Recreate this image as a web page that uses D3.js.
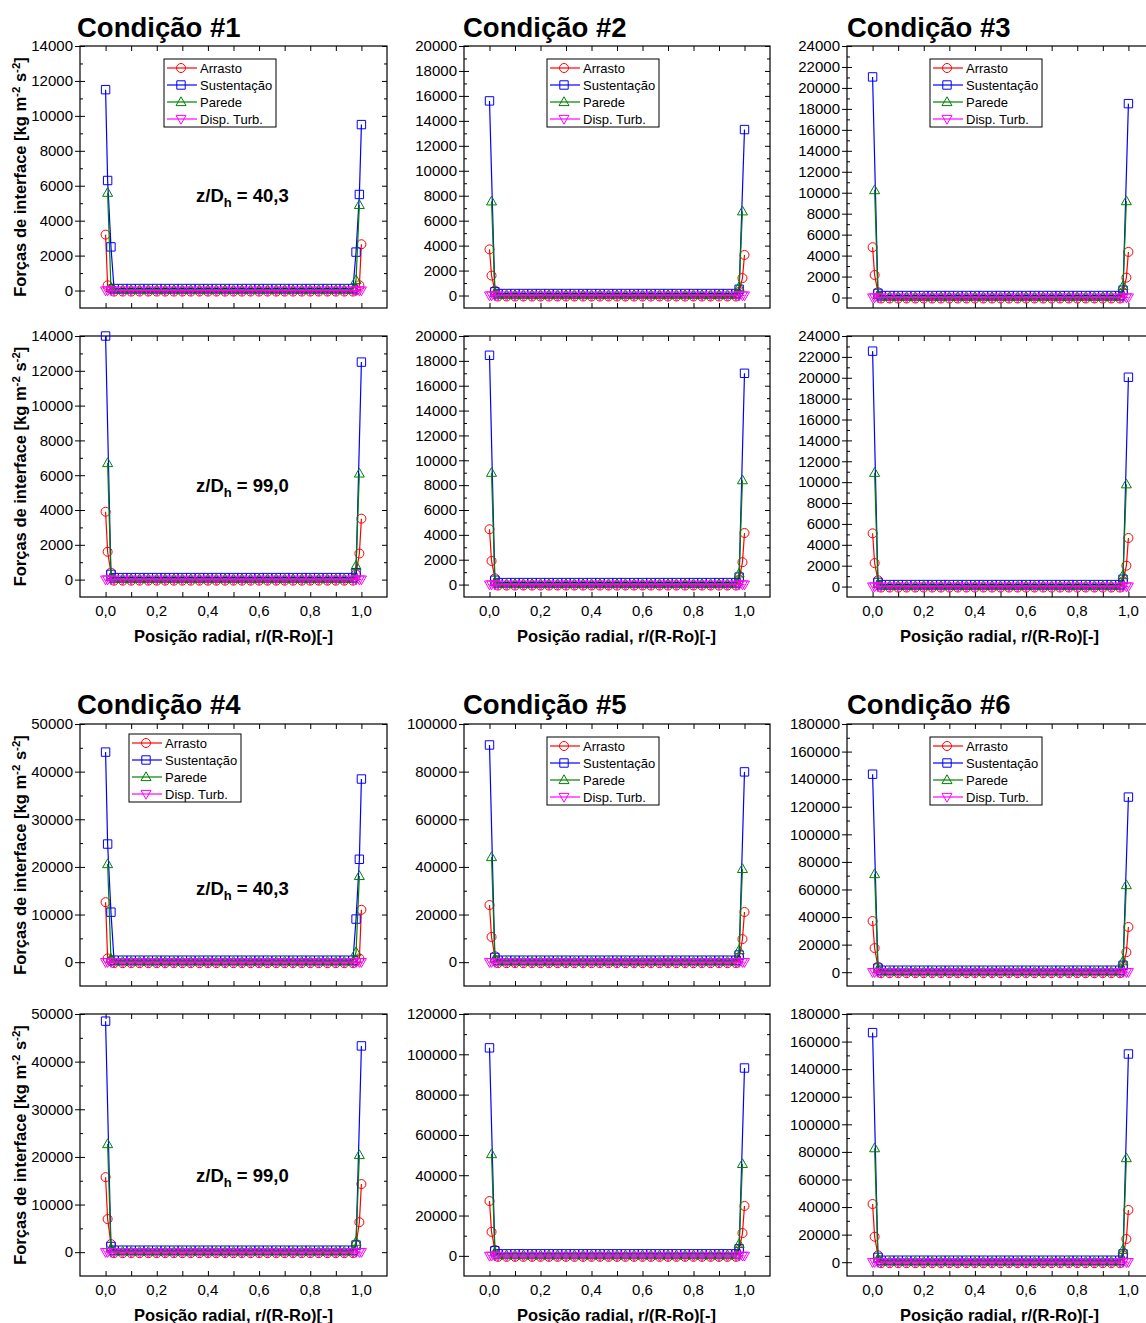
<!DOCTYPE html>
<html>
<head>
<meta charset="utf-8">
<script src="https://cdn.jsdelivr.net/npm/d3@7"></script>
<style>
  body { margin: 0; background: #fff; }
  svg { display: block; }
  text { font-family: Arial, "Liberation Sans", sans-serif; fill: #000; }
</style>
</head>
<body>
<svg id="chart" width="1146" height="1323"></svg>
<script>
// Radial positions r/(R-Ro) of the profile points (refined near both walls)
const rPos = [0, 0.008, 0.021,
  0.033, 0.067, 0.1, 0.133, 0.167, 0.2, 0.233, 0.267, 0.3, 0.333,
  0.367, 0.4, 0.433, 0.467, 0.5, 0.533, 0.567, 0.6, 0.633, 0.667,
  0.7, 0.733, 0.767, 0.8, 0.833, 0.867, 0.9, 0.933, 0.967,
  0.979, 0.992, 1.0];

const seriesNames = ["Arrasto", "Sustentação", "Parede", "Disp. Turb."];
const conditionTitles = ["Condição #1", "Condição #2", "Condição #3", "Condição #4", "Condição #5", "Condição #6"];
const stations = ["40,3", "99,0"];
const xTicks = [0, 0.1, 0.2, 0.3, 0.4, 0.5, 0.6, 0.7, 0.8, 0.9, 1.0];
const xTickLabels = ["0,0", "", "0,2", "", "0,4", "", "0,6", "", "0,8", "", "1,0"];

const yTicks14k = [0, 2000, 4000, 6000, 8000, 10000, 12000, 14000];
const yTicks20k = [0, 2000, 4000, 6000, 8000, 10000, 12000, 14000, 16000, 18000, 20000];
const yTicks24k = [0, 2000, 4000, 6000, 8000, 10000, 12000, 14000, 16000, 18000, 20000, 22000, 24000];
const yTicks50k = [0, 10000, 20000, 30000, 40000, 50000];
const yTicks100k = [0, 20000, 40000, 60000, 80000, 100000];
const yTicks120k = [0, 20000, 40000, 60000, 80000, 100000, 120000];
const yTicks180k = [0, 20000, 40000, 60000, 80000, 100000, 120000, 140000, 160000, 180000];

// Turbulent dispersion force: ~0 across the whole gap in every case
const dispTurb = [0, 0, 0,
  0, 0, 0, 0, 0, 0, 0, 0, 0, 0,
  0, 0, 0, 0, 0, 0, 0, 0, 0, 0,
  0, 0, 0, 0, 0, 0, 0, 0, 0,
  0, 0, 0];

// null = no value stored at that radial position for the series

// ---- Condição #1 ----
const c1z40Arrasto = [3200, 300, 100,
  -60, -60, -60, -60, -60, -60, -60, -60, -60, -60,
  -60, -60, -60, -60, -60, -60, -60, -60, -60, -60,
  -60, -60, -60, -60, -60, -60, -60, -60, -60,
  20, 300, 2650];
const c1z40Sust = [11500, 6300, 2500,
  115, 115, 115, 115, 115, 115, 115, 115, 115, 115,
  115, 115, 115, 115, 115, 115, 115, 115, 115, 115,
  115, 115, 115, 115, 115, 115, 115, 115, 115,
  2200, 5500, 9500];
const c1z40Parede = [null, 5600, 150,
  40, 40, 40, 40, 40, 40, 40, 40, 40, 40,
  40, 40, 40, 40, 40, 40, 40, 40, 40, 40,
  40, 40, 40, 40, 40, 40, 40, 40, 40,
  600, 4900, null];
const c1z99Arrasto = [3900, 1600, 400,
  -60, -60, -60, -60, -60, -60, -60, -60, -60, -60,
  -60, -60, -60, -60, -60, -60, -60, -60, -60, -60,
  -60, -60, -60, -60, -60, -60, -60, -60, -60,
  300, 1500, 3500];
const c1z99Sust = [14000, null, 300,
  115, 115, 115, 115, 115, 115, 115, 115, 115, 115,
  115, 115, 115, 115, 115, 115, 115, 115, 115, 115,
  115, 115, 115, 115, 115, 115, 115, 115, 115,
  400, null, 12500];
const c1z99Parede = [null, 6700, 150,
  40, 40, 40, 40, 40, 40, 40, 40, 40, 40,
  40, 40, 40, 40, 40, 40, 40, 40, 40, 40,
  40, 40, 40, 40, 40, 40, 40, 40, 40,
  800, 6100, null];

// ---- Condição #2 ----
const c2z40Arrasto = [3700, 1600, 400,
  -80, -80, -80, -80, -80, -80, -80, -80, -80, -80,
  -80, -80, -80, -80, -80, -80, -80, -80, -80, -80,
  -80, -80, -80, -80, -80, -80, -80, -80, -80,
  300, 1400, 3250];
const c2z40Sust = [15600, null, 300,
  160, 160, 160, 160, 160, 160, 160, 160, 160, 160,
  160, 160, 160, 160, 160, 160, 160, 160, 160, 160,
  160, 160, 160, 160, 160, 160, 160, 160, 160,
  500, null, 13300];
const c2z40Parede = [null, 7550, 200,
  55, 55, 55, 55, 55, 55, 55, 55, 55, 55,
  55, 55, 55, 55, 55, 55, 55, 55, 55, 55,
  55, 55, 55, 55, 55, 55, 55, 55, 55,
  700, 6750, null];
const c2z99Arrasto = [4450, 1900, 500,
  -80, -80, -80, -80, -80, -80, -80, -80, -80, -80,
  -80, -80, -80, -80, -80, -80, -80, -80, -80, -80,
  -80, -80, -80, -80, -80, -80, -80, -80, -80,
  400, 1800, 4150];
const c2z99Sust = [18450, null, 350,
  160, 160, 160, 160, 160, 160, 160, 160, 160, 160,
  160, 160, 160, 160, 160, 160, 160, 160, 160, 160,
  160, 160, 160, 160, 160, 160, 160, 160, 160,
  600, null, 17000];
const c2z99Parede = [null, 9000, 200,
  55, 55, 55, 55, 55, 55, 55, 55, 55, 55,
  55, 55, 55, 55, 55, 55, 55, 55, 55, 55,
  55, 55, 55, 55, 55, 55, 55, 55, 55,
  900, 8400, null];

// ---- Condição #3 ----
const c3z40Arrasto = [4800, 2150, 500,
  -95, -95, -95, -95, -95, -95, -95, -95, -95, -95,
  -95, -95, -95, -95, -95, -95, -95, -95, -95, -95,
  -95, -95, -95, -95, -95, -95, -95, -95, -95,
  500, 1900, 4350];
const c3z40Sust = [21050, null, 400,
  190, 190, 190, 190, 190, 190, 190, 190, 190, 190,
  190, 190, 190, 190, 190, 190, 190, 190, 190, 190,
  190, 190, 190, 190, 190, 190, 190, 190, 190,
  700, null, 18500];
const c3z40Parede = [null, 10250, 250,
  65, 65, 65, 65, 65, 65, 65, 65, 65, 65,
  65, 65, 65, 65, 65, 65, 65, 65, 65, 65,
  65, 65, 65, 65, 65, 65, 65, 65, 65,
  1100, 9200, null];
const c3z99Arrasto = [5100, 2250, 600,
  -95, -95, -95, -95, -95, -95, -95, -95, -95, -95,
  -95, -95, -95, -95, -95, -95, -95, -95, -95, -95,
  -95, -95, -95, -95, -95, -95, -95, -95, -95,
  500, 2000, 4650];
const c3z99Sust = [22550, null, 400,
  190, 190, 190, 190, 190, 190, 190, 190, 190, 190,
  190, 190, 190, 190, 190, 190, 190, 190, 190, 190,
  190, 190, 190, 190, 190, 190, 190, 190, 190,
  700, null, 20050];
const c3z99Parede = [null, 10900, 250,
  65, 65, 65, 65, 65, 65, 65, 65, 65, 65,
  65, 65, 65, 65, 65, 65, 65, 65, 65, 65,
  65, 65, 65, 65, 65, 65, 65, 65, 65,
  1100, 9800, null];

// ---- Condição #4 ----
const c4z40Arrasto = [12600, 800, 300,
  -210, -210, -210, -210, -210, -210, -210, -210, -210, -210,
  -210, -210, -210, -210, -210, -210, -210, -210, -210, -210,
  -210, -210, -210, -210, -210, -210, -210, -210, -210,
  300, 800, 11000];
const c4z40Sust = [44100, 24800, 10500,
  420, 420, 420, 420, 420, 420, 420, 420, 420, 420,
  420, 420, 420, 420, 420, 420, 420, 420, 420, 420,
  420, 420, 420, 420, 420, 420, 420, 420, 420,
  9050, 21600, 38450];
const c4z40Parede = [null, 20600, 700,
  150, 150, 150, 150, 150, 150, 150, 150, 150, 150,
  150, 150, 150, 150, 150, 150, 150, 150, 150, 150,
  150, 150, 150, 150, 150, 150, 150, 150, 150,
  2100, 18100, null];
const c4z99Arrasto = [15750, 6950, 1700,
  -210, -210, -210, -210, -210, -210, -210, -210, -210, -210,
  -210, -210, -210, -210, -210, -210, -210, -210, -210, -210,
  -210, -210, -210, -210, -210, -210, -210, -210, -210,
  1500, 6300, 14300];
const c4z99Sust = [48500, null, 1200,
  420, 420, 420, 420, 420, 420, 420, 420, 420, 420,
  420, 420, 420, 420, 420, 420, 420, 420, 420, 420,
  420, 420, 420, 420, 420, 420, 420, 420, 420,
  1500, null, 43300];
const c4z99Parede = [null, 22700, 800,
  150, 150, 150, 150, 150, 150, 150, 150, 150, 150,
  150, 150, 150, 150, 150, 150, 150, 150, 150, 150,
  150, 150, 150, 150, 150, 150, 150, 150, 150,
  2200, 20400, null];

// ---- Condição #5 ----
const c5z40Arrasto = [24000, 10600, 2500,
  -420, -420, -420, -420, -420, -420, -420, -420, -420, -420,
  -420, -420, -420, -420, -420, -420, -420, -420, -420, -420,
  -420, -420, -420, -420, -420, -420, -420, -420, -420,
  2000, 9700, 21050];
const c5z40Sust = [91200, null, 2000,
  840, 840, 840, 840, 840, 840, 840, 840, 840, 840,
  840, 840, 840, 840, 840, 840, 840, 840, 840, 840,
  840, 840, 840, 840, 840, 840, 840, 840, 840,
  3000, null, 79900];
const c5z40Parede = [null, 44150, 1500,
  300, 300, 300, 300, 300, 300, 300, 300, 300, 300,
  300, 300, 300, 300, 300, 300, 300, 300, 300, 300,
  300, 300, 300, 300, 300, 300, 300, 300, 300,
  5100, 39150, null];
const c5z99Arrasto = [27200, 11900, 3000,
  -500, -500, -500, -500, -500, -500, -500, -500, -500, -500,
  -500, -500, -500, -500, -500, -500, -500, -500, -500, -500,
  -500, -500, -500, -500, -500, -500, -500, -500, -500,
  3000, 11300, 24750];
const c5z99Sust = [103200, null, 2500,
  1000, 1000, 1000, 1000, 1000, 1000, 1000, 1000, 1000, 1000,
  1000, 1000, 1000, 1000, 1000, 1000, 1000, 1000, 1000, 1000,
  1000, 1000, 1000, 1000, 1000, 1000, 1000, 1000, 1000,
  3500, null, 93200];
const c5z99Parede = [null, 50500, 1800,
  350, 350, 350, 350, 350, 350, 350, 350, 350, 350,
  350, 350, 350, 350, 350, 350, 350, 350, 350, 350,
  350, 350, 350, 350, 350, 350, 350, 350, 350,
  5900, 45600, null];

// ---- Condição #6 ----
const c6z40Arrasto = [37100, 17500, 4000,
  -720, -720, -720, -720, -720, -720, -720, -720, -720, -720,
  -720, -720, -720, -720, -720, -720, -720, -720, -720, -720,
  -720, -720, -720, -720, -720, -720, -720, -720, -720,
  4000, 14500, 32800];
const c6z40Sust = [143600, null, 3000,
  1450, 1450, 1450, 1450, 1450, 1450, 1450, 1450, 1450, 1450,
  1450, 1450, 1450, 1450, 1450, 1450, 1450, 1450, 1450, 1450,
  1450, 1450, 1450, 1450, 1450, 1450, 1450, 1450, 1450,
  5000, null, 127000];
const c6z40Parede = [null, 71200, 2200,
  500, 500, 500, 500, 500, 500, 500, 500, 500, 500,
  500, 500, 500, 500, 500, 500, 500, 500, 500, 500,
  500, 500, 500, 500, 500, 500, 500, 500, 500,
  8000, 63200, null];
const c6z99Arrasto = [42200, 18500, 5000,
  -720, -720, -720, -720, -720, -720, -720, -720, -720, -720,
  -720, -720, -720, -720, -720, -720, -720, -720, -720, -720,
  -720, -720, -720, -720, -720, -720, -720, -720, -720,
  5000, 16800, 37900];
const c6z99Sust = [166500, null, 3500,
  1450, 1450, 1450, 1450, 1450, 1450, 1450, 1450, 1450, 1450,
  1450, 1450, 1450, 1450, 1450, 1450, 1450, 1450, 1450, 1450,
  1450, 1450, 1450, 1450, 1450, 1450, 1450, 1450, 1450,
  6000, null, 151000];
const c6z99Parede = [null, 82700, 2500,
  500, 500, 500, 500, 500, 500, 500, 500, 500, 500,
  500, 500, 500, 500, 500, 500, 500, 500, 500, 500,
  500, 500, 500, 500, 500, 500, 500, 500, 500,
  9000, 75500, null];

// Panel table: condition index, axial station index, series, y axis range and ticks
const panels = [
  { cond: 0, st: 0, series: [c1z40Arrasto, c1z40Sust, c1z40Parede, dispTurb], yDomain: [-1000, 14000], yTicks: yTicks14k },
  { cond: 0, st: 1, series: [c1z99Arrasto, c1z99Sust, c1z99Parede, dispTurb], yDomain: [-1000, 14000], yTicks: yTicks14k },
  { cond: 1, st: 0, series: [c2z40Arrasto, c2z40Sust, c2z40Parede, dispTurb], yDomain: [-1000, 20000], yTicks: yTicks20k },
  { cond: 1, st: 1, series: [c2z99Arrasto, c2z99Sust, c2z99Parede, dispTurb], yDomain: [-1000, 20000], yTicks: yTicks20k },
  { cond: 2, st: 0, series: [c3z40Arrasto, c3z40Sust, c3z40Parede, dispTurb], yDomain: [-1000, 24000], yTicks: yTicks24k },
  { cond: 2, st: 1, series: [c3z99Arrasto, c3z99Sust, c3z99Parede, dispTurb], yDomain: [-1000, 24000], yTicks: yTicks24k },
  { cond: 3, st: 0, series: [c4z40Arrasto, c4z40Sust, c4z40Parede, dispTurb], yDomain: [-5000, 50000], yTicks: yTicks50k },
  { cond: 3, st: 1, series: [c4z99Arrasto, c4z99Sust, c4z99Parede, dispTurb], yDomain: [-5000, 50000], yTicks: yTicks50k },
  { cond: 4, st: 0, series: [c5z40Arrasto, c5z40Sust, c5z40Parede, dispTurb], yDomain: [-10000, 100000], yTicks: yTicks100k },
  { cond: 4, st: 1, series: [c5z99Arrasto, c5z99Sust, c5z99Parede, dispTurb], yDomain: [-10000, 120000], yTicks: yTicks120k },
  { cond: 5, st: 0, series: [c6z40Arrasto, c6z40Sust, c6z40Parede, dispTurb], yDomain: [-10000, 180000], yTicks: yTicks180k },
  { cond: 5, st: 1, series: [c6z99Arrasto, c6z99Sust, c6z99Parede, dispTurb], yDomain: [-10000, 180000], yTicks: yTicks180k }
];

panels.forEach(p => p.series.forEach((s, i) => {
  if (s.length !== rPos.length) throw new Error("length mismatch: cond " + p.cond + " st " + p.st + " series " + i + " (" + s.length + ")");
}));

// ---------- layout ----------
const colX = [[80, 387], [464, 770], [847, 1154]];
const rowY = [[46, 308], [336, 597], [724, 986], [1014, 1276]];
const titleX = [77, 463, 847];
const titleBaseline = [37, 714];
const xTitleCenter = [233.5, 616.5, 999.5];
const legendPos = [[164, 59], [547, 59], [930, 59], [129, 734], [547, 737], [930, 737]];
const annotBaseline = [202, 492, 895, 1182];
const colors = ["#ff0000", "#0000ff", "#008000", "#ff00ff"];
const markerPaths = [
  "M4.5,0A4.5,4.5 0 1,1 -4.5,0A4.5,4.5 0 1,1 4.5,0Z",
  "M-4.2,-4.2H4.2V4.2H-4.2Z",
  "M0,-5.2L5,3.6H-5Z",
  "M0,5.2L5,-3.6H-5Z"
];

const svg = d3.select("#chart");
const fmtY = d3.format("d");

panels.forEach(p => {
  const col = p.cond % 3;
  const group = Math.floor(p.cond / 3);
  const row = group * 2 + p.st;
  const [x0, x1] = colX[col];
  const [y0, y1] = rowY[row];
  const x = d3.scaleLinear().domain([-0.1, 1.1]).range([x0, x1]);
  const y = d3.scaleLinear().domain(p.yDomain).range([y1, y0]);
  const g = svg.append("g");

  const minor = [];
  for (let i = 0; i < p.yTicks.length - 1; i++) minor.push((p.yTicks[i] + p.yTicks[i + 1]) / 2);

  const clean = sel => { sel.select(".domain").remove(); sel.selectAll("line").attr("stroke", "#000").attr("stroke-width", 1); };

  // left axis: labelled majors (outward) + inward majors + inward minors
  g.append("g").attr("transform", `translate(${x0},0)`)
    .call(d3.axisLeft(y).tickValues(p.yTicks).tickSize(5).tickPadding(2).tickFormat(fmtY))
    .call(clean)
    .call(s => s.selectAll("text").attr("font-size", 15).attr("font-family", "Arial, 'Liberation Sans', sans-serif").attr("fill", "#000"));
  g.append("g").attr("transform", `translate(${x0},0)`)
    .call(d3.axisLeft(y).tickValues(p.yTicks).tickSize(-5).tickFormat("")).call(clean);
  g.append("g").attr("transform", `translate(${x0},0)`)
    .call(d3.axisLeft(y).tickValues(minor).tickSize(-3).tickFormat("")).call(clean);
  // right axis: inward ticks
  g.append("g").attr("transform", `translate(${x1},0)`)
    .call(d3.axisRight(y).tickValues(p.yTicks).tickSize(-5).tickFormat("")).call(clean);
  g.append("g").attr("transform", `translate(${x1},0)`)
    .call(d3.axisRight(y).tickValues(minor).tickSize(-3).tickFormat("")).call(clean);
  // bottom axis: inward ticks, labels on the lower panel of each group
  g.append("g").attr("transform", `translate(0,${y1})`)
    .call(d3.axisBottom(x).tickValues(xTicks).tickSize(-5).tickFormat(""))
    .call(clean);
  if (p.st === 1) {
    g.append("g").selectAll("text").data(xTicks).join("text")
      .attr("x", d => x(d)).attr("y", y1 + 19)
      .attr("text-anchor", "middle").attr("font-size", 15)
      .text((d, i) => xTickLabels[i]);
    g.append("text")
      .attr("x", xTitleCenter[col]).attr("y", y1 + 45)
      .attr("text-anchor", "middle").attr("font-size", 16.5).attr("font-weight", "bold")
      .text("Posição radial, r/(R-Ro)[-]");
  }
  // top axis: inward ticks
  g.append("g").attr("transform", `translate(0,${y0})`)
    .call(d3.axisTop(x).tickValues(xTicks).tickSize(-5).tickFormat(""))
    .call(clean);

  // frame
  g.append("rect").attr("x", x0).attr("y", y0).attr("width", x1 - x0).attr("height", y1 - y0)
    .attr("fill", "none").attr("stroke", "#000").attr("stroke-width", 1.2);

  // series: line then markers, in legend order; missing values are skipped
  p.series.forEach((vals, k) => {
    const pts = rPos.map((r, i) => [r, vals[i]]).filter(d => d[1] != null);
    const line = d3.line().x(d => x(d[0])).y(d => y(d[1]));
    g.append("path").attr("d", line(pts)).attr("fill", "none")
      .attr("stroke", colors[k]).attr("stroke-width", 1.2).attr("stroke-linejoin", "round");
    g.append("g").selectAll("path").data(pts).join("path")
      .attr("d", markerPaths[k])
      .attr("transform", d => `translate(${x(d[0])},${y(d[1])})`)
      .attr("fill", "none").attr("stroke", colors[k]).attr("stroke-width", 1);
  });

  // legend in the upper panel of each group
  if (p.st === 0) {
    const [lx, ly] = legendPos[p.cond];
    const lg = g.append("g").attr("transform", `translate(${lx},${ly})`);
    lg.append("rect").attr("width", 112).attr("height", 68).attr("fill", "#fff").attr("stroke", "#000").attr("stroke-width", 1);
    seriesNames.forEach((name, k) => {
      const cy = 9 + k * 17;
      lg.append("line").attr("x1", 3).attr("x2", 33).attr("y1", cy).attr("y2", cy)
        .attr("stroke", colors[k]).attr("stroke-width", 1.2);
      lg.append("path").attr("d", markerPaths[k]).attr("transform", `translate(17,${cy})`)
        .attr("fill", "none").attr("stroke", colors[k]).attr("stroke-width", 1);
      lg.append("text").attr("x", 36).attr("y", cy + 4.5).attr("font-size", 13).text(name);
    });
  }

  // axial station annotation and y title on the first column
  if (col === 0) {
    const t = g.append("text").attr("x", 196).attr("y", annotBaseline[row])
      .attr("font-size", 18.5).attr("font-weight", "bold");
    t.append("tspan").text("z/D");
    t.append("tspan").attr("font-size", 13).attr("dy", 5).text("h");
    t.append("tspan").attr("dy", -5).text(" = " + stations[p.st]);

    const cy = (y0 + y1) / 2;
    const yt = g.append("text").attr("transform", `translate(26,${cy}) rotate(-90)`)
      .attr("text-anchor", "middle").attr("font-size", 16.5).attr("font-weight", "bold");
    yt.append("tspan").text("Forças de interface [kg m");
    yt.append("tspan").attr("font-size", 11.5).attr("dy", -6).text("-2");
    yt.append("tspan").attr("dy", 6).text(" s");
    yt.append("tspan").attr("font-size", 11.5).attr("dy", -6).text("-2");
    yt.append("tspan").attr("dy", 6).text("]");
  }

  // condition title above each group
  if (p.st === 0) {
    svg.append("text").attr("x", titleX[col]).attr("y", titleBaseline[group])
      .attr("font-size", 27.5).attr("font-weight", "bold").text(conditionTitles[p.cond]);
  }
});
</script>
</body>
</html>
